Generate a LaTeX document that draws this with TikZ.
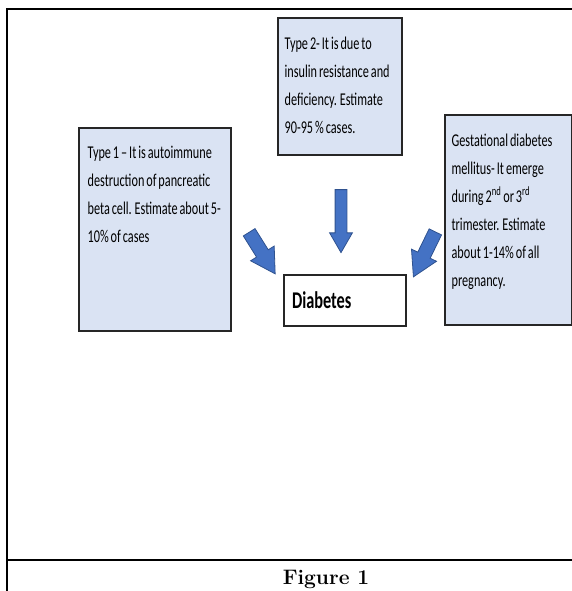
\documentclass[tikz,border=0pt]{standalone}
\usepackage{fontspec}
\usetikzlibrary{positioning, shapes.arrows}
\newfontfamily\boxfont[FakeStretch=0.68, WordSpace=0.7]{Carlito}
\definecolor{boxblue}{HTML}{DAE3F3}
\definecolor{arrowblue}{HTML}{4472C4}
\definecolor{arrowedge}{HTML}{2F528F}

\begin{document}
\begin{tikzpicture}[
  x=1pt, y=1pt,
  typebox/.style={rectangle, draw=black!85, line width=1.2pt, fill=boxblue, inner sep=0pt},
  boxtext/.style={inner sep=0pt, align=left, font=\boxfont\fontsize{18}{28}\selectfont},
  bluearrow/.style={single arrow, draw=arrowedge, fill=arrowblue, line width=0.8pt, inner xsep=0pt, single arrow tip angle=60, minimum height=#1},
]
\useasboundingbox (0,0) rectangle (572,591);
\draw[line width=2.5pt] (7,0) -- (7,582) -- (572,582);
\draw[line width=2.5pt] (7,31) -- (572,31);

\node[typebox, minimum width=124pt, minimum height=137pt] (type2) at (340,504.5) {};
\node[boxtext, below right=19pt and 7pt of type2.north west] (type2txt) {Type 2- It is due to\\insulin resistance and\\deficiency. Estimate\\90-95 \% cases.};

\node[typebox, minimum width=152pt, minimum height=203pt] (type1) at (155,361.5) {};
\node[boxtext, below right=19pt and 9pt of type1.north west] (type1txt) {Type 1 – It is autoimmune\\destruction of pancreatic\\beta cell. Estimate about 5-\\10\% of cases};

\node[typebox, minimum width=127pt, minimum height=210pt] (gdm) at (508.5,371) {};
\node[boxtext, below right=19pt and 7pt of gdm.north west] (gdmtxt) {Gestational diabetes\\mellitus- It emerge\\during 2\textsuperscript{nd} or 3\textsuperscript{rd}\\trimester. Estimate\\about 1-14\% of all\\pregnancy.};

\node[draw=black!85, line width=1.2pt, fill=white, minimum width=122pt, minimum height=51pt, text width=106pt, inner xsep=8pt, align=left, font=\boxfont\bfseries\fontsize{24}{28}\selectfont] (diabetes) at (345,290.5) {Diabetes};

\node[bluearrow=49pt, inner ysep=6.5pt, single arrow head extend=7pt, rotate=-58] (arr1) at (259,343) {};
\node[bluearrow=63pt, inner ysep=5.5pt, single arrow head extend=5.5pt, rotate=-90] (arr2) at (341,375) {};
\node[bluearrow=50pt, inner ysep=6.5pt, single arrow head extend=7pt, rotate=-116] (arr3) at (427,342) {};

\node[font=\bfseries\fontsize{21}{24}\selectfont, anchor=base] (caption) at (326,6) {Figure 1};
\end{tikzpicture}
\end{document}
